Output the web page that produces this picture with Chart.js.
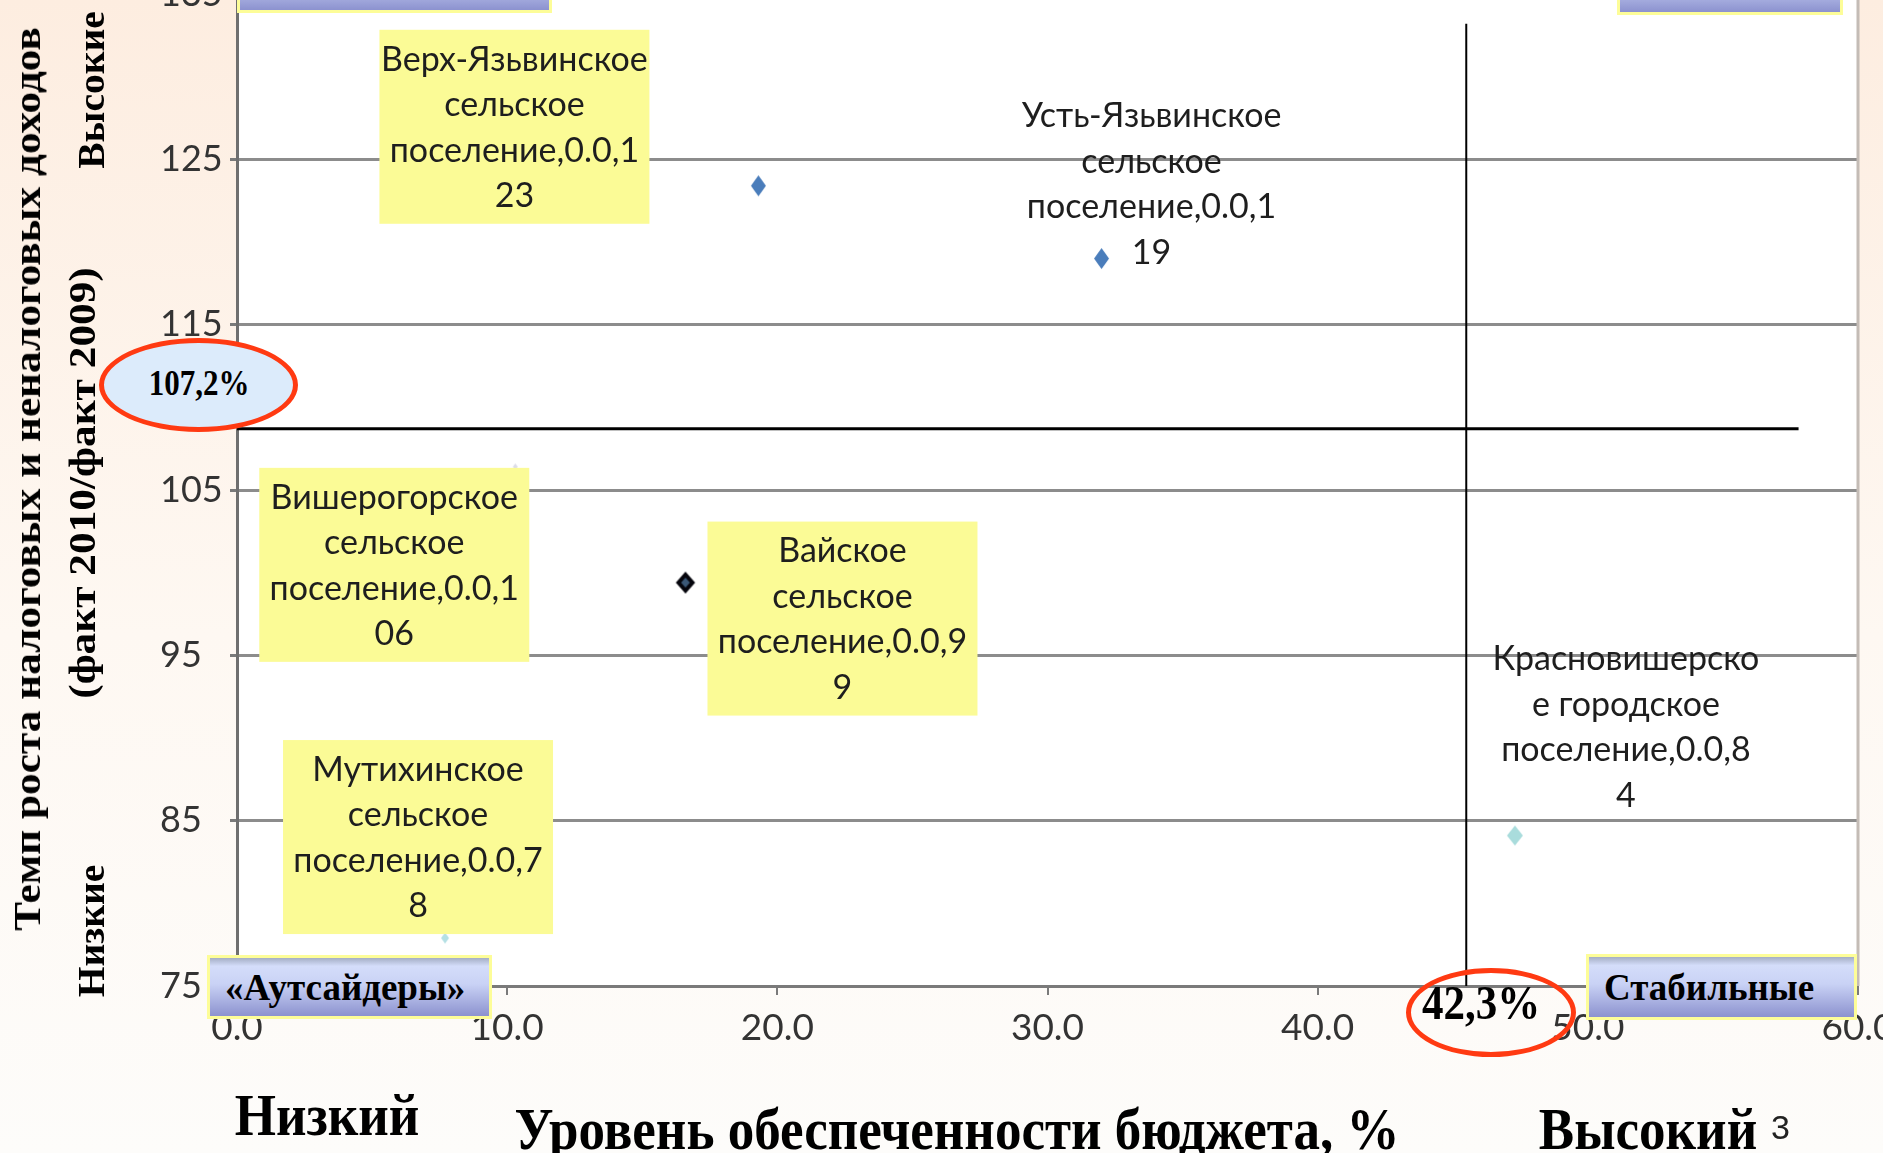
<!DOCTYPE html>
<html>
<head>
<meta charset="utf-8">
<script src="https://cdn.jsdelivr.net/npm/chart.js@4.4.0/dist/chart.umd.min.js"></script>
<style>
  html, body { margin: 0; padding: 0; }
  body {
    width: 1883px; height: 1153px; overflow: hidden; position: relative;
    background: linear-gradient(#fdede0, #fef8f2 55%, #fdfcfa);
  }
  #chart { position: absolute; left: 0; top: -66px; }
  .t {
    position: absolute; white-space: nowrap; color: #000; line-height: 1;
    font-family: "Liberation Serif", "Times New Roman", serif; font-weight: bold;
  }
  .h { transform: translateX(-50%) scaleY(1.12); transform-origin: 50% 84%; }
  .v { transform: translate(-50%, -50%) rotate(-90deg) scale(1.14, 1); }
  .v2 { transform: translate(-50%, -50%) rotate(-90deg) scale(1.04, 1); }
  .box {
    position: absolute; box-sizing: border-box; border: 3px solid #fdfd98;
    background: linear-gradient(#a4aec4 0%, #d4ddfa 14%, #c9d2f5 45%, #8c92cf 100%);
    font-family: "Liberation Serif", serif; font-weight: bold; font-size: 37px;
    display: flex; align-items: center; padding-left: 15px; white-space: nowrap;
  }
  .ell { position: absolute; box-sizing: border-box; border: 5px solid #ff3a12; border-radius: 50%; }
</style>
</head>
<body>
<canvas id="chart" width="1883" height="1219"></canvas>

<div class="box" style="left:237px;top:-49px;width:315px;height:62px"></div>
<div class="box" style="left:1617px;top:-47px;width:226px;height:62px"></div>
<div class="box" style="left:207px;top:955px;width:285px;height:64px">«Аутсайдеры»</div>
<div class="box" style="left:1586px;top:954px;width:271px;height:66px">Стабильные</div>

<div class="ell" style="left:99px;top:338px;width:199px;height:94px;background:#dcebfb"></div>
<div class="t" style="left:199px;top:383px;font-size:31px;transform:translate(-50%,-50%) scaleY(1.15)">107,2%</div>
<div class="ell" style="left:1406px;top:968px;width:170px;height:89px"></div>
<div class="t" style="left:1481px;top:1003px;font-size:43px;transform:translate(-50%,-50%) scaleY(1.12)">42,3%</div>

<div class="t v" style="left:27px;top:479px;font-size:38px">Темп роста налоговых и неналоговых доходов</div>
<div class="t v" style="left:82px;top:483px;font-size:38px">(факт 2010/факт 2009)</div>
<div class="t v2" style="left:91px;top:90px;font-size:38px">Высокие</div>
<div class="t v2" style="left:91px;top:931px;font-size:38px">Низкие</div>

<div class="t h" style="left:327px;top:1091px;font-size:53px">Низкий</div>
<div class="t h" style="left:957px;top:1105px;font-size:53px">Уровень обеспеченности бюджета, %</div>
<div class="t h" style="left:1648px;top:1105px;font-size:53px">Высокий</div>
<div style="position:absolute;left:1771px;top:1110px;line-height:1;font-family:'Liberation Sans',sans-serif;font-size:34px;color:#222">3</div>

<script>
// settlements (label text is name + ",0.0," + value, wrapped like Excel did)
const nameLines = [
  ['Верх-Язьвинское', 'сельское', 'поселение'],
  ['Усть-Язьвинское', 'сельское', 'поселение'],
  ['Вишерогорское', 'сельское', 'поселение'],
  ['Вайское', 'сельское', 'поселение'],
  ['Мутихинское', 'сельское', 'поселение'],
  ['Красновишерско', 'е городское', 'поселение']
]
const budgetLevel = [19.3, 32.0, 10.3, 16.6, 7.7, 47.3]
const growthRate = [123.4, 119.0, 106.4, 99.4, 77.9, 84.1]
const labelValues = ['123', '119', '106', '99', '78', '84']

const xTickValues = [0, 10, 20, 30, 40, 50, 60]
const xTickLabels = ['0.0', '10.0', '20.0', '30.0', '40.0', '50.0', '60.0']
const yTickValues = [75, 85, 95, 105, 115, 125, 135]
const yTickLabels = ['75', '85', '95', '105', '115', '125', '135']

// quadrant dividers as drawn on the slide
const hDivider = [{ x: 0, y: 108.7 }, { x: 57.8, y: 108.7 }]
const vDivider = [{ x: 45.5, y: 75 }, { x: 45.5, y: 133.2 }]

// label placement relative to the marker, in pixels
const labelLayout = [
  { dx: -244, dy: -58, box: true },
  { dx: 50, dy: -74, box: false },
  { dx: -121, dy: 99, box: true },
  { dx: 157, dy: 37, box: true },
  { dx: -27, dy: -100, box: true },
  { dx: 111, dy: -108, box: false }
]

function diamond(fill, stroke, lw, w, h) {
  const c = document.createElement('canvas')
  c.width = w + lw * 2 + 2
  c.height = h + lw * 2 + 2
  const g = c.getContext('2d')
  const cx = c.width / 2, cy = c.height / 2
  g.beginPath()
  g.moveTo(cx, cy - h / 2)
  g.lineTo(cx + w / 2, cy)
  g.lineTo(cx, cy + h / 2)
  g.lineTo(cx - w / 2, cy)
  g.closePath()
  g.fillStyle = fill
  g.fill()
  if (lw) {
    g.strokeStyle = stroke
    g.lineWidth = lw
    g.stroke()
  }
  return c
}

const blueMark = diamond('#4a7dbb', '#4a7dbb', 0, 15, 21)
const markers = [
  blueMark,
  blueMark,
  diamond('#dcdce8', '#dcdce8', 0, 5, 7),
  diamond('#3b5877', '#05050c', 4, 14, 16),
  diamond('#b4e0e4', '#b4e0e4', 0, 8, 11),
  diamond('#a9dcdc', '#a9dcdc', 0, 16, 20)
]

const pointLabels = {
  id: 'pointLabels',
  beforeDraw(chart) {
    const { ctx, chartArea: a } = chart
    ctx.save()
    ctx.fillStyle = '#ffffff'
    ctx.fillRect(a.left, a.top, a.right - a.left, a.bottom - a.top)
    ctx.restore()
  },
  afterDatasetsDraw(chart) {
    const { ctx, chartArea: a } = chart
    ctx.save()
    ctx.strokeStyle = '#c4bcb6'
    ctx.lineWidth = 3
    ctx.beginPath()
    ctx.moveTo(a.right, a.top)
    ctx.lineTo(a.right, a.bottom)
    ctx.stroke()

    const meta = chart.getDatasetMeta(0)
    meta.data.forEach((pt, i) => {
      const l = labelLayout[i]
      const cx = pt.x + l.dx
      const cy = pt.y + l.dy
      const v = labelValues[i]
      const names = nameLines[i]
      const lines = [names[0], names[1], names[2] + ',0.0,' + v[0], v.slice(1)]
      if (l.box) {
        ctx.fillStyle = '#fbfb96'
        ctx.fillRect(cx - 135, cy - 98, 270, 194)
      }
      ctx.font = '34px Lato'
      ctx.fillStyle = '#1e1e1e'
      ctx.textAlign = 'center'
      ctx.textBaseline = 'middle'
      lines.forEach((ln, k) => ctx.fillText(ln, cx, cy + (k - 1.5) * 45.5))
    })
    ctx.restore()
  }
}

new Chart(document.getElementById('chart'), {
  type: 'scatter',
  data: {
    datasets: [
      {
        data: budgetLevel.map((x, i) => ({ x: x, y: growthRate[i] })),
        pointStyle: markers
      },
      {
        data: hDivider,
        showLine: true,
        borderColor: '#000',
        borderWidth: 3,
        pointRadius: 0
      },
      {
        data: vDivider,
        showLine: true,
        borderColor: '#000',
        borderWidth: 2,
        pointRadius: 0
      }
    ]
  },
  options: {
    responsive: false,
    animation: false,
    devicePixelRatio: 1,
    events: [],
    layout: {
      autoPadding: false,
      padding: { top: 60, right: 25, left: 160, bottom: 0 }
    },
    plugins: {
      legend: { display: false },
      tooltip: { enabled: false }
    },
    scales: {
      x: {
        type: 'linear',
        min: 0,
        max: 60,
        afterFit(scale) {
          scale.height = 167
          scale.paddingLeft = 0
          scale.paddingRight = 0
        },
        afterBuildTicks(scale) { scale.ticks = xTickValues.map(v => ({ value: v })) },
        border: { display: true, color: '#7a7a7a', width: 3 },
        grid: { drawOnChartArea: false, drawTicks: true, tickLength: 9, color: '#7a7a7a', lineWidth: 2 },
        ticks: {
          padding: 11,
          color: '#333',
          font: { family: 'Lato', size: 37 },
          callback: (v, i) => xTickLabels[i]
        }
      },
      y: {
        type: 'linear',
        min: 75,
        max: 135,
        afterFit(scale) { scale.width = 77 },
        afterBuildTicks(scale) { scale.ticks = yTickValues.map(v => ({ value: v })) },
        border: { display: true, color: '#6f6f6f', width: 3 },
        grid: { color: '#8c8c8c', lineWidth: 3, tickLength: 7, tickColor: '#7a7a7a' },
        ticks: {
          crossAlign: 'far',
          color: '#333',
          font: { family: 'Lato', size: 36 },
          callback: (v, i) => yTickLabels[i]
        }
      }
    }
  },
  plugins: [pointLabels]
})
</script>
</body>
</html>
